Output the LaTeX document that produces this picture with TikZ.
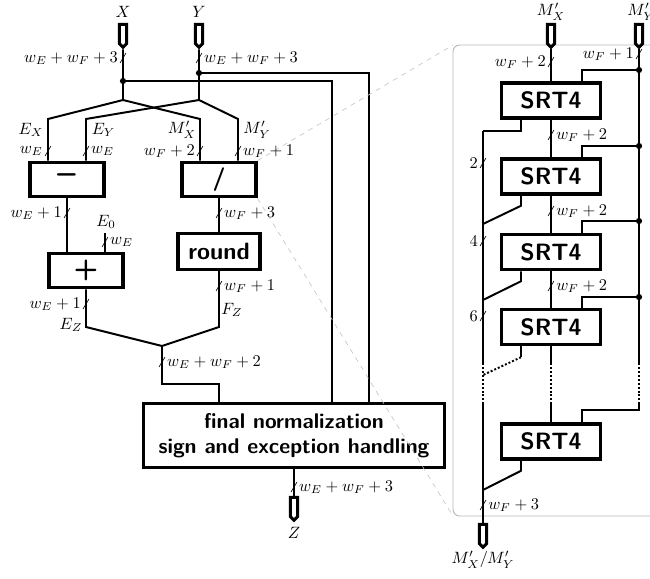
\documentclass[tikz,border=0pt]{standalone}
\usepackage{amsmath}
\usetikzlibrary{shapes.symbols,calc}

\begin{document}
\begin{tikzpicture}[x=0.61pt, y=-0.61pt,
    wire/.style={line width=1.2pt},
    dots/.style={wire, dash pattern=on 1.2pt off 1.2pt},
    unit/.style={draw, line width=2pt, fill=white, font=\Large\sffamily\bfseries,
      minimum width=45pt, minimum height=21pt, inner sep=0pt},
    port/.style={signal, signal to=south, draw, fill=white, line width=1.8pt,
      inner sep=0pt, minimum width=4.4pt, minimum height=11.8pt},
    dot/.style={circle, fill, inner sep=0pt, minimum size=3.8pt},
    lbl/.style={inner xsep=3pt, inner ysep=1pt},
    tag/.style={inner sep=1pt},
    bus/.pic={\draw[line width=0.4pt] (-1.8pt,-3pt) -- (1.8pt,3pt);},
    zoom/.style={gray!55, line width=0.6pt}]

    \useasboundingbox (0,0) rectangle (650,579);

    \node[port] (X) at (123,34) {};
    \node[port] (Y) at (199,34) {};
    \node[tag] (lX) at (123,12) {$X$};
    \node[tag] (lY) at (199,12) {$Y$};
    \coordinate (xs) at (123,100);
    \coordinate (ys) at (199,100);
    \node[dot] (xj) at (123,81) {};
    \node[dot] (yj) at (199,73) {};

    \node[unit, font=\huge\sffamily\bfseries] (sub) at (67,179.5) {--};
    \node[unit] (div) at (219,179.5) {/};
    \node[unit, font=\LARGE\sffamily\bfseries] (add) at (86,270.5) {+};
    \node[unit, minimum width=50pt, minimum height=22pt] (rnd) at (219,251.5) {round};
    \node[unit, minimum width=184pt, minimum height=39pt, align=center,
      font=\fontsize{13}{15.5}\selectfont\sffamily\bfseries] (fin) at (294,435.5) {final normalization\\sign and exception handling};
    \node[port] (Z) at (294,507) {};

    \draw[wire] (X) -- (xs) -- (48,119) -- ($(sub.north)+(-19,0)$);
    \draw[wire] (xs) -- (200,119) -- ($(div.north)+(-19,0)$);
    \draw[wire] (Y) -- (ys) -- (86,119) -- ($(sub.north)+(19,0)$);
    \draw[wire] (ys) -- (238,119) -- ($(div.north)+(19,0)$);
    \draw[wire] (xj) -| ($(fin.north)+(38,0)$);
    \draw[wire] (yj) -| ($(fin.north)+(75,0)$);
    \draw[wire] (sub.south) -- (sub.south |- add.north);
    \coordinate (e0) at (105,233);
    \draw[wire] (e0) -- (e0 |- add.north);
    \draw[wire] (div) -- (rnd);
    \coordinate (m) at (162,346);
    \draw[wire] (add.south) -- (86,327) -- (m) -- (162,384) -| ($(fin.north)+(-75,0)$);
    \draw[wire] (rnd.south) -- (219,327) -- (m);
    \draw[wire] (fin) -- (Z);

    \node[tag] (lEX) at (31,130) {$E_X$};
    \node[tag] (lEY) at (103.5,130) {$E_Y$};
    \node[tag] (lMX) at (182,130) {$M'_X$};
    \node[tag] (lMY) at (257,130) {$M'_Y$};
    \node[tag] (lE0) at (106,222) {$E_0$};
    \node[tag] (lEZ) at (71,325) {$E_Z$};
    \node[tag] (lFZ) at (232,310) {$F_Z$};
    \node[tag] (lZ) at (294,533) {$Z$};

    \draw[zoom, rounded corners=4pt] (700,45) -- (453,45) coordinate (zt) -- (453,516) coordinate (zb) -- (700,516);
    \draw[zoom, gray!45, line width=0.4pt, dashed] (div.north east) -- (zt);
    \draw[zoom, gray!45, line width=0.4pt, dashed] (div.south east) -- (zb);

    \node[port] (MX) at (551,34) {};
    \node[port] (MY) at (639,34) {};
    \node[tag] (lMXr) at (551,12) {$M'_X$};
    \node[tag] (lMYr) at (641,12) {$M'_Y$};
    \foreach \i/\y in {1/100.5, 2/176.5, 3/252, 4/327, 5/441.5}
      \node[unit, minimum width=60pt, minimum height=21.5pt] (s\i) at (551,\y) {SRT4};
    \node[port] (Q) at (483,534) {};
    \node[tag] (lQ) at (483,560) {$M'_X/M'_Y$};

    \draw[wire] (MX) -- (s1);
    \foreach \i/\j in {1/2, 2/3, 3/4}
      \draw[wire] (s\i) -- (s\j);
    \draw[wire] (s4) -- (551,363);
    \draw[dots] (551,363) -- (551,402);
    \draw[wire] (551,402) -- (s5);

    \foreach \i/\y in {1/70, 2/146, 3/221, 4/297} {
      \node[dot] (d\i) at (639,\y) {};
      \draw[wire] (d\i) -| ($(s\i.north)+(31,0)$);
    }
    \draw[wire] (MY) -- (639,363);
    \draw[dots] (639,363) -- (639,402);
    \draw[wire] (639,402) -- (639,410) -| ($(s5.north)+(31,0)$);

    \coordinate (q1) at (483,131);
    \draw[wire] ($(s1.south)+(-30,0)$) |- (q1);
    \draw[wire] (q1) -- (483,363);
    \draw[dots] (483,363) -- (483,402);
    \draw[wire] (483,402) -- (Q);
    \foreach \i/\y in {2/224, 3/300, 5/490}
      \draw[wire] ($(s\i.south)+(-30,0)$) -- ++(0,10) -- (483,\y);
    \draw[wire] ($(s4.south)+(-30,0)$) -- ++(0,11) coordinate (q4);
    \draw[dots] (q4) -- (483,375);

    \foreach \x/\y/\a/\t [count=\k] in {
        123/58/east/{$w_E+w_F+3$}, 199/58/west/{$w_E+w_F+3$},
        48/151/east/{$w_E$}, 86/151/west/{$w_E$},
        200/151/east/{$w_F+2$}, 238/151/west/{$w_F+1$},
        67/213/east/{$w_E+1$}, 219/213/west/{$w_F+3$},
        105/242/west/{$w_E$}, 86/304/east/{$w_E+1$},
        219/286/west/{$w_F+1$}, 162/362/west/{$w_E+w_F+2$},
        294/487/west/{$w_E+w_F+3$},
        551/62/east/{$w_F+2$}, 639/54/east/{$w_F+1$},
        551/135/west/{$w_F+2$}, 551/211/west/{$w_F+2$},
        551/286/west/{$w_F+2$},
        483/163/east/{$2$}, 483/241/east/{$4$}, 483/316/east/{$6$},
        483/505/west/{$w_F+3$}} {
      \pic at (\x,\y) {bus};
      \node[lbl, anchor=\a] (b\k) at (\x,\y) {\t};
    }
  \end{tikzpicture}
\end{document}
